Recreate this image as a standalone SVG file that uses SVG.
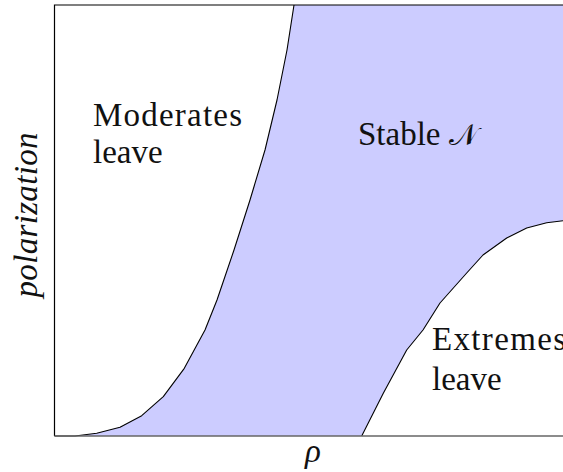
<svg xmlns="http://www.w3.org/2000/svg" width="563" height="472" viewBox="0 0 563 472">
<style>
.lbl{font-family:"Liberation Serif","Times New Roman",serif;font-size:33px;fill:#111}
.ax{font-family:"Liberation Serif","Times New Roman",serif;font-size:33px;font-style:italic;fill:#111}
.curve{fill:none;stroke:#000;stroke-width:1.1;stroke-linejoin:round}
</style>
<rect width="563" height="472" fill="#fff"/>
<g id="stable-region">
<path d="M75,436 L96.7,433.3 L120,427.3 L141.7,415.7 L163.3,396.7 L184.3,368.3 L205,330 L217,300 L234,250 L250,200 L265,150 L277,100 L287,50 L294,5 L563,5 L563,220.7 L546.7,222.7 L526.7,228 L506.7,238 L483,255 L466.7,273 L440,303 L423,330 L406.7,350 L383.3,393.3 L361.7,436 Z" fill="#ccccff"/>
</g>
<g id="connectors">
<path class="curve" d="M54.5,436 L75,436 L96.7,433.3 L120,427.3 L141.7,415.7 L163.3,396.7 L184.3,368.3 L205,330 L217,300 L234,250 L250,200 L265,150 L277,100 L287,50 L294,5"/>
<path class="curve" d="M361.7,436 L383.3,393.3 L406.7,350 L423,330 L440,303 L466.7,273 L483,255 L506.7,238 L526.7,228 L546.7,222.7 L563,220.7"/>
</g>
<g id="axes">
<path d="M54.5,436 L54.5,5 L563,5" fill="none" stroke="#000" stroke-width="1.2"/>
<path d="M54.5,436 L563,436" fill="none" stroke="#666" stroke-width="1.5"/>
</g>
<g id="moderates">
<text class="lbl" x="93" y="126" textLength="149" lengthAdjust="spacing">Moderates</text>
<text class="lbl" x="93" y="163">leave</text>
</g>
<g id="stable">
<text class="lbl" x="358" y="145">Stable <tspan font-family="DejaVu Serif, DejaVu Sans, serif" font-size="30">𝒩</tspan></text>
</g>
<g id="extremes">
<text class="lbl" x="432" y="350" textLength="134" lengthAdjust="spacing">Extremes</text>
<text class="lbl" x="432" y="390">leave</text>
</g>
<g id="axis-labels">
<text class="ax" font-family="Liberation Serif, serif" transform="translate(37,215) rotate(-90)" text-anchor="middle" textLength="165" lengthAdjust="spacing">polarization</text>
<text class="ax" font-family="Liberation Serif, serif" x="313" y="462" text-anchor="middle">ρ</text>
</g>
</svg>
